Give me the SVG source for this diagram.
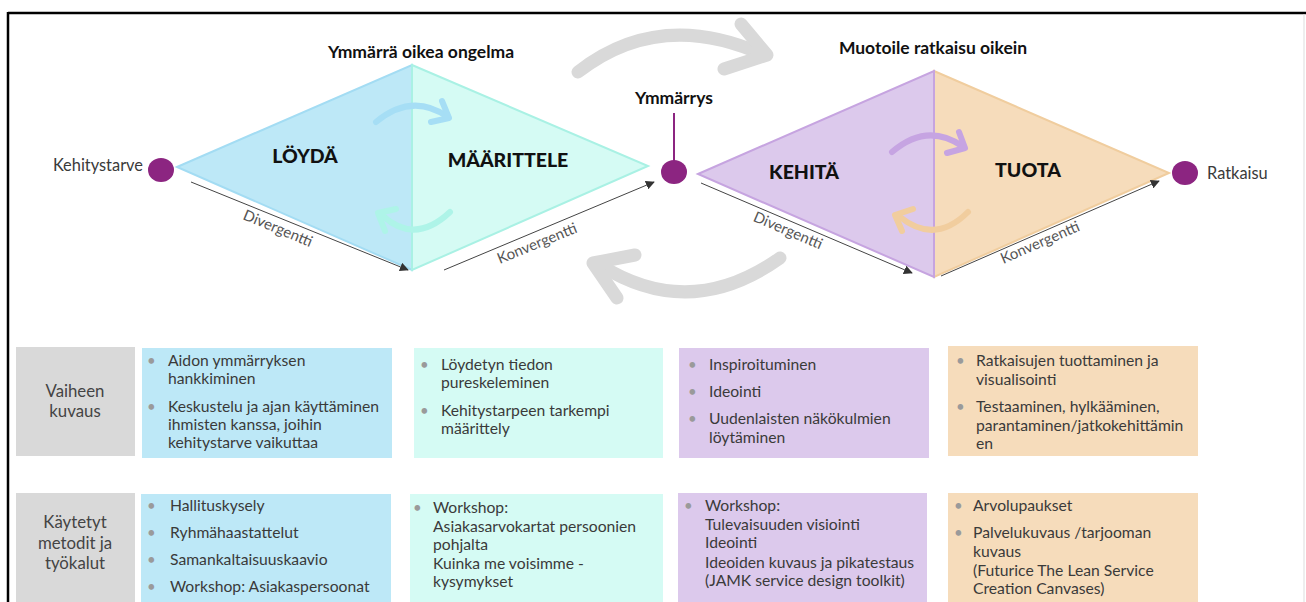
<svg xmlns="http://www.w3.org/2000/svg" width="1306" height="602" viewBox="0 0 1306 602">
<defs>
<style>
text{font-family:Lato,"Open Sans","Liberation Sans",sans-serif}
.t{font-size:15.7px;fill:#3a3a3a}
.b{font-size:15px;fill:#9a9a9a}
.lbl{font-size:16.8px;fill:#444;text-anchor:middle}
.dl{font-size:19.5px;font-weight:900;fill:#111;text-anchor:middle}
.ttl{font-size:17.5px;font-weight:700;fill:#111;text-anchor:middle}
.ax{font-size:15px;fill:#555;text-anchor:middle}
.ln{stroke:#444;stroke-width:1;fill:none;marker-end:url(#tri)}
.big{stroke:#d9d9d9;stroke-width:13;fill:none;stroke-linecap:round;stroke-linejoin:round}
.sm{stroke-width:6;fill:none;stroke-linecap:round;stroke-linejoin:round}
.dot{fill:#8c2581}
</style>
<marker id="tri" viewBox="0 0 10 10" refX="9" refY="5" markerWidth="9" markerHeight="9" orient="auto" markerUnits="userSpaceOnUse">
<path d="M0,0 L10,5 L0,10 z" fill="#333"/>
</marker>
</defs>
<rect width="1306" height="602" fill="#fff"/>
<g id="frame">
<line x1="8" y1="13" x2="1306" y2="13" stroke="#000" stroke-width="2.5"/>
<line x1="8" y1="12" x2="8" y2="602" stroke="#000" stroke-width="2.5"/>
<line x1="1304" y1="14" x2="1304" y2="602" stroke="#ddd" stroke-width="1"/>
</g>

<g id="diamond-left">
<polygon points="177,167 412,65 412,270" fill="#bde8f7" stroke="#a3dcf3" stroke-width="2"/>
<polygon points="412,65 648,166 412,270" fill="#d5fbf4" stroke="#a9f1e4" stroke-width="2"/>
<text class="ttl" x="421" y="58">Ymmärrä oikea ongelma</text>
<text class="dl" x="305" y="163">LÖYDÄ</text>
<text class="dl" x="508" y="167">MÄÄRITTELE</text>
</g>
<g id="diamond-right">
<polygon points="934,71 1169,173 934,277" fill="#f6dcbb" stroke="#f0cd9e" stroke-width="2"/>
<polygon points="698,174 934,71 934,277" fill="#dcc9ec" stroke="#c6a4e0" stroke-width="2"/>
<text class="ttl" x="933" y="54">Muotoile ratkaisu oikein</text>
<text class="dl" x="804" y="179">KEHITÄ</text>
<text class="dl" x="1028" y="177">TUOTA</text>
</g>

<g id="node-kehitystarve">
<ellipse class="dot" cx="161" cy="170" rx="13" ry="12"/>
<text x="143" y="171" font-size="16.4" fill="#3a3a3a" text-anchor="end">Kehitystarve</text>
</g>
<g id="node-ymmarrys">
<line x1="674" y1="113" x2="674" y2="162" stroke="#8c2581" stroke-width="2"/>
<ellipse class="dot" cx="674" cy="172" rx="13" ry="12"/>
<text class="ttl" x="674" y="104">Ymmärrys</text>
</g>
<g id="node-ratkaisu">
<ellipse class="dot" cx="1185" cy="173" rx="13" ry="12"/>
<text x="1207" y="179" font-size="16.4" fill="#3a3a3a">Ratkaisu</text>
</g>

<g id="connectors">
<line class="ln" x1="191" y1="182" x2="408" y2="270"/>
<line class="ln" x1="444" y1="270" x2="654" y2="182"/>
<line class="ln" x1="701" y1="183" x2="912" y2="273"/>
<line class="ln" x1="941" y1="276" x2="1159" y2="181"/>
<text class="ax" transform="translate(276,233) rotate(22.6)">Divergentti</text>
<text class="ax" transform="translate(539,248) rotate(-22.3)">Konvergentti</text>
<text class="ax" transform="translate(786,235) rotate(23)">Divergentti</text>
<text class="ax" transform="translate(1042,247) rotate(-23.5)">Konvergentti</text>
<path class="big" d="M578,72 Q660,8 764,55"/>
<path class="big" d="M741,24 L767,55 L724,69"/>
<path class="big" d="M780,258 Q690,322 600,265"/>
<path class="big" d="M635,255 L593,263 L617,298"/>
<path class="sm" stroke="#a6def5" d="M376,122 Q412,92 448,117"/>
<path class="sm" stroke="#a6def5" d="M442,101 L449,118 L431,122"/>
<path class="sm" stroke="#aef4e8" d="M450,212 Q415,245 383,216"/>
<path class="sm" stroke="#aef4e8" d="M396,209 L378,213 L385,231"/>
<path class="sm" stroke="#c6a4e2" d="M892,152 Q927,122 962,146"/>
<path class="sm" stroke="#c6a4e2" d="M959,132 L965,148 L947,153"/>
<path class="sm" stroke="#f1cd9e" d="M968,212 Q935,245 900,217"/>
<path class="sm" stroke="#f1cd9e" d="M913,209 L895,215 L902,231"/>
</g>

<g id="label-vaihe">
<rect x="16" y="347" width="119" height="109" fill="#d9d9d9"/>
<text class="lbl"><tspan x="75" y="397">Vaiheen</tspan><tspan x="75" y="417">kuvaus</tspan></text>
</g>
<g id="label-metodit">
<rect x="16" y="493" width="119" height="109" fill="#d9d9d9"/>
<text class="lbl"><tspan x="75" y="528">Käytetyt</tspan><tspan x="75" y="549">metodit ja</tspan><tspan x="75" y="569">työkalut</tspan></text>
</g>

<g id="box-loyda-kuvaus">
<rect x="142" y="348" width="250" height="110" fill="#bde8f7"/>
<text class="b"><tspan x="147" y="366">•</tspan><tspan x="147" y="412">•</tspan></text>
<text class="t"><tspan x="168" y="366">Aidon ymmärryksen</tspan><tspan x="168" y="384">hankkiminen</tspan><tspan x="168" y="412">Keskustelu ja ajan käyttäminen</tspan><tspan x="168" y="430">ihmisten kanssa, joihin</tspan><tspan x="168" y="448">kehitystarve vaikuttaa</tspan></text>
</g>
<g id="box-maarittele-kuvaus">
<rect x="414" y="348" width="249" height="110" fill="#d5fbf4"/>
<text class="b"><tspan x="420" y="370">•</tspan><tspan x="420" y="416">•</tspan></text>
<text class="t"><tspan x="441" y="370">Löydetyn tiedon</tspan><tspan x="441" y="388">pureskeleminen</tspan><tspan x="441" y="416">Kehitystarpeen tarkempi</tspan><tspan x="441" y="434">määrittely</tspan></text>
</g>
<g id="box-kehita-kuvaus">
<rect x="679" y="348" width="250" height="110" fill="#dcc9ec"/>
<text class="b"><tspan x="688" y="370">•</tspan><tspan x="688" y="397">•</tspan><tspan x="688" y="424">•</tspan></text>
<text class="t"><tspan x="709" y="370">Inspiroituminen</tspan><tspan x="709" y="397">Ideointi</tspan><tspan x="709" y="424">Uudenlaisten näkökulmien</tspan><tspan x="709" y="443">löytäminen</tspan></text>
</g>
<g id="box-tuota-kuvaus">
<rect x="948" y="346" width="250" height="110" fill="#f6dcbb"/>
<text class="b"><tspan x="956" y="366">•</tspan><tspan x="956" y="412">•</tspan></text>
<text class="t"><tspan x="976" y="366">Ratkaisujen tuottaminen ja</tspan><tspan x="976" y="385">visualisointi</tspan><tspan x="976" y="412">Testaaminen, hylkääminen,</tspan><tspan x="976" y="431">parantaminen/jatkokehittämin</tspan><tspan x="976" y="449">en</tspan></text>
</g>

<g id="box-loyda-metodit">
<rect x="141" y="494" width="250" height="108" fill="#bde8f7"/>
<text class="b"><tspan x="147" y="511">•</tspan><tspan x="147" y="538">•</tspan><tspan x="147" y="565">•</tspan><tspan x="147" y="592">•</tspan></text>
<text class="t"><tspan x="170" y="511">Hallituskysely</tspan><tspan x="170" y="538">Ryhmähaastattelut</tspan><tspan x="170" y="565">Samankaltaisuuskaavio</tspan><tspan x="170" y="592">Workshop: Asiakaspersoonat</tspan></text>
</g>
<g id="box-maarittele-metodit">
<rect x="410" y="494" width="253" height="108" fill="#d5fbf4"/>
<text class="b"><tspan x="413" y="513">•</tspan></text>
<text class="t"><tspan x="433" y="513">Workshop:</tspan><tspan x="433" y="532">Asiakasarvokartat persoonien</tspan><tspan x="433" y="550">pohjalta</tspan><tspan x="433" y="569">Kuinka me voisimme -</tspan><tspan x="433" y="587">kysymykset</tspan></text>
</g>
<g id="box-kehita-metodit">
<rect x="678" y="493" width="249" height="109" fill="#dcc9ec"/>
<text class="b"><tspan x="684" y="511">•</tspan></text>
<text class="t"><tspan x="705" y="511">Workshop:</tspan><tspan x="705" y="530">Tulevaisuuden visiointi</tspan><tspan x="705" y="548">Ideointi</tspan><tspan x="705" y="568">Ideoiden kuvaus ja pikatestaus</tspan><tspan x="705" y="586">(JAMK service design toolkit)</tspan></text>
</g>
<g id="box-tuota-metodit">
<rect x="948" y="493" width="250" height="109" fill="#f6dcbb"/>
<text class="b"><tspan x="954" y="511">•</tspan><tspan x="954" y="538">•</tspan></text>
<text class="t"><tspan x="973" y="511">Arvolupaukset</tspan><tspan x="973" y="538">Palvelukuvaus /tarjooman</tspan><tspan x="973" y="557">kuvaus</tspan><tspan x="973" y="576">(Futurice The Lean Service</tspan><tspan x="973" y="594">Creation Canvases)</tspan></text>
</g>
</svg>
